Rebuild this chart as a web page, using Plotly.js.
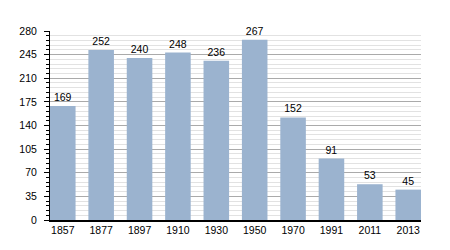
<!DOCTYPE html>
<html><head><meta charset="utf-8">
<script src="https://cdn.plot.ly/plotly-3.0.1.min.js"></script>
<style>html,body{margin:0;padding:0;background:#fff}#c{width:450px;height:250px}</style>
</head><body><div id="c"></div>
<script>
var years = ["1857","1877","1897","1910","1930","1950","1970","1991","2011","2013"];
var population = [169,252,240,248,236,267,152,91,53,45];
var yTicks = [0,35,70,105,140,175,210,245,280];

var gap = 0.334;
Plotly.newPlot('c', [{
  type: 'bar',
  x: years,
  y: population,
  text: population.map(String),
  textposition: 'outside',
  cliponaxis: false,
  textfont: {family: 'Liberation Sans, Arial, sans-serif', size: 10.5, color: '#000'},
  marker: {color: '#9bb3cf'},
  hoverinfo: 'none'
}], {
  width: 450, height: 250,
  margin: {l: 50, r: 29, t: 31, b: 30},
  paper_bgcolor: '#fff', plot_bgcolor: '#fff',
  bargap: gap,
  showlegend: false,
  font: {family: 'Liberation Sans, Arial, sans-serif', size: 10.5, color: '#000'},
  xaxis: {
    type: 'category',
    range: [-(1 - gap) / 2, years.length - 1 + (1 - gap) / 2],
    showgrid: false,
    showline: true, linecolor: '#000', linewidth: 1.5,
    ticks: '', tickfont: {size: 10.5},
    fixedrange: true
  },
  yaxis: {
    range: [0, 280],
    tickvals: yTicks,
    ticks: 'outside', ticklen: 5, tickcolor: '#000',
    ticklabelstandoff: 5,
    showline: true, linecolor: '#000', linewidth: 1,
    showgrid: true, gridcolor: '#aaaaaa', gridwidth: 1,
    zeroline: false,
    minor: {dtick: 7, showgrid: true, gridcolor: '#e2e2e2', ticks: 'outside', ticklen: 3, tickcolor: '#000'},
    tickfont: {size: 10.5},
    fixedrange: true
  }
}, {staticPlot: true});
</script></body></html>
